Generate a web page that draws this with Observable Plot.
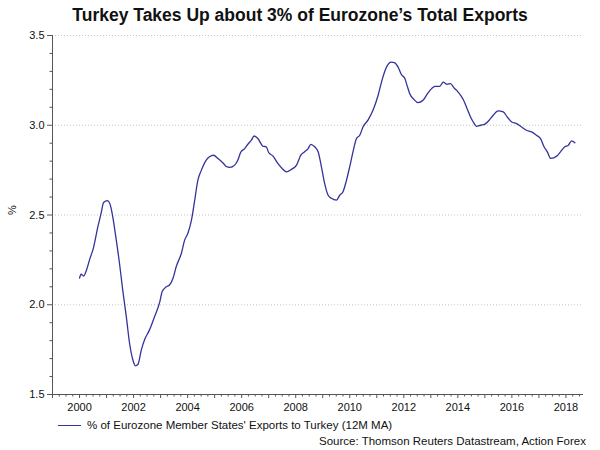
<!DOCTYPE html>
<html>
<head>
<meta charset="utf-8">
<script src="https://cdn.jsdelivr.net/npm/d3@7"></script>
<script src="https://cdn.jsdelivr.net/npm/@observablehq/plot@0.6"></script>
<style>
  html, body { margin: 0; padding: 0; background: #fff; }
  body { width: 600px; height: 450px; overflow: hidden; font-family: "Liberation Sans", Arial, sans-serif; color: #111; }
  #title { height: 30px; line-height: 30px; text-align: center; font-weight: bold; font-size: 17.5px; }
  #chart svg { display: block; }
  #legend { position: absolute; left: 58px; top: 418px; font-size: 11.5px; line-height: 14px; display: flex; align-items: center; }
  #legend .sw { display: inline-block; width: 23px; border-top: 1.3px solid #33339a; margin-right: 6px; }
  #source { position: absolute; right: 14px; top: 434px; font-size: 11.5px; line-height: 14px; }
</style>
</head>
<body>
<div id="title">Turkey Takes Up about 3% of Eurozone’s Total Exports</div>
<div id="chart"></div>
<div id="legend"><span class="sw"></span><span>% of Eurozone Member States' Exports to Turkey (12M MA)</span></div>
<div id="source">Source: Thomson Reuters Datastream, Action Forex</div>
<script>
// Decimal-year positions and % values
const years = [
  2000.00, 2000.06, 2000.15, 2000.25, 2000.37, 2000.52, 2000.68, 2000.80, 2000.89, 2001.03,
  2001.14, 2001.23, 2001.36, 2001.48, 2001.60, 2001.73, 2001.85, 2001.97, 2002.07, 2002.16,
  2002.29, 2002.41, 2002.59, 2002.78, 2002.96, 2003.06, 2003.21, 2003.33, 2003.46, 2003.58,
  2003.77, 2003.89, 2004.01, 2004.14, 2004.26, 2004.38, 2004.51, 2004.69, 2004.81, 2004.96,
  2005.12, 2005.31, 2005.43, 2005.56, 2005.74, 2005.86, 2005.96, 2006.11, 2006.23, 2006.36,
  2006.46, 2006.60, 2006.79, 2006.91, 2007.00, 2007.16, 2007.34, 2007.49, 2007.66, 2007.84,
  2008.03, 2008.19, 2008.33, 2008.46, 2008.56, 2008.70, 2008.83, 2008.95, 2009.07, 2009.20,
  2009.32, 2009.51, 2009.63, 2009.75, 2009.88, 2010.00, 2010.12, 2010.25, 2010.37, 2010.49,
  2010.68, 2010.86, 2011.05, 2011.21, 2011.36, 2011.54, 2011.67, 2011.79, 2011.91, 2012.04,
  2012.12, 2012.22, 2012.38, 2012.53, 2012.71, 2012.86, 2013.03, 2013.15, 2013.33, 2013.46,
  2013.60, 2013.73, 2013.85, 2014.01, 2014.20, 2014.34, 2014.47, 2014.57, 2014.69, 2014.84,
  2015.00, 2015.16, 2015.31, 2015.49, 2015.68, 2015.83, 2015.99, 2016.17, 2016.36, 2016.54,
  2016.73, 2016.91, 2017.06, 2017.19, 2017.31, 2017.44, 2017.66, 2017.80, 2017.96, 2018.09,
  2018.21, 2018.33
];
const shares = [
  2.148, 2.170, 2.160, 2.190, 2.250, 2.320, 2.435, 2.510, 2.570, 2.580,
  2.555, 2.490, 2.360, 2.230, 2.080, 1.935, 1.787, 1.695, 1.660, 1.667,
  1.750, 1.806, 1.860, 1.935, 2.010, 2.074, 2.100, 2.110, 2.148, 2.213,
  2.287, 2.360, 2.398, 2.470, 2.580, 2.694, 2.750, 2.806, 2.824, 2.833,
  2.815, 2.790, 2.770, 2.765, 2.778, 2.806, 2.848, 2.870, 2.894, 2.917,
  2.940, 2.926, 2.883, 2.880, 2.848, 2.828, 2.787, 2.760, 2.740, 2.754,
  2.778, 2.833, 2.852, 2.870, 2.894, 2.880, 2.852, 2.770, 2.676, 2.610,
  2.593, 2.583, 2.610, 2.630, 2.694, 2.770, 2.852, 2.926, 2.944, 2.990,
  3.030, 3.083, 3.167, 3.260, 3.324, 3.352, 3.348, 3.324, 3.283, 3.260,
  3.222, 3.176, 3.143, 3.126, 3.139, 3.172, 3.204, 3.217, 3.217, 3.240,
  3.228, 3.232, 3.210, 3.185, 3.143, 3.093, 3.046, 3.018, 2.994, 3.000,
  3.006, 3.028, 3.056, 3.080, 3.074, 3.046, 3.018, 3.009, 2.990, 2.972,
  2.963, 2.944, 2.926, 2.880, 2.852, 2.815, 2.828, 2.852, 2.880, 2.889,
  2.913, 2.902
];
const yMajorTicks = [1.5, 2.0, 2.5, 3.0, 3.5];
const yMinorTicks = [1.6, 1.7, 1.8, 1.9, 2.1, 2.2, 2.3, 2.4, 2.6, 2.7, 2.8, 2.9, 3.1, 3.2, 3.3, 3.4];
const yGridTicks = [2.0, 2.5, 3.0, 3.5];
const xYearTicks = [1999, 2000, 2001, 2002, 2003, 2004, 2005, 2006, 2007, 2008, 2009, 2010, 2011, 2012, 2013, 2014, 2015, 2016, 2017, 2018];
const xLabelYears = [2000, 2002, 2004, 2006, 2008, 2010, 2012, 2014, 2016, 2018];
const xQuarterTicks = d3.range(1999, 2018.6, 0.25).filter(d => d % 1 !== 0);

const data = years.map((x, i) => ({x, y: shares[i]}));
const axisColor = "#555";

const chart = Plot.plot({
  width: 600,
  height: 390,
  marginTop: 5,
  marginBottom: 26,
  marginLeft: 52,
  marginRight: 17,
  style: {fontFamily: "'Liberation Sans', Arial, sans-serif", fontSize: "11px", color: "#111", background: "white", overflow: "visible"},
  x: {domain: [1999, 2018.65]},
  y: {domain: [1.5, 3.5]},
  marks: [
    Plot.gridY(yGridTicks, {stroke: "#c4c4c4", strokeOpacity: 1, strokeWidth: 1, strokeDasharray: "1,2"}),
    Plot.axisY(yMinorTicks, {tickSize: 2.5, tickFormat: () => "", label: null, stroke: axisColor}),
    Plot.axisY(yMajorTicks, {tickSize: 5, tickPadding: 3, tickFormat: d3.format(".1f"), label: null, stroke: axisColor, fill: "#111"}),
    Plot.axisX(xQuarterTicks, {tickSize: 2.5, tickFormat: () => "", label: null, stroke: axisColor}),
    Plot.axisX(xYearTicks, {tickSize: 4, tickPadding: 5, tickFormat: d => xLabelYears.includes(d) ? String(d) : "", label: null, stroke: axisColor, fill: "#111"}),
    Plot.ruleX([1999], {stroke: axisColor}),
    Plot.ruleY([1.5], {stroke: axisColor}),
    Plot.line(data, {x: "x", y: "y", stroke: "#33339a", strokeWidth: 1.3, curve: "monotone-x"}),
    Plot.text(["%"], {frameAnchor: "left", dx: -40, rotate: -90, fontSize: 11, fill: "#111"})
  ]
});
document.getElementById("chart").appendChild(chart);
</script>
</body>
</html>
